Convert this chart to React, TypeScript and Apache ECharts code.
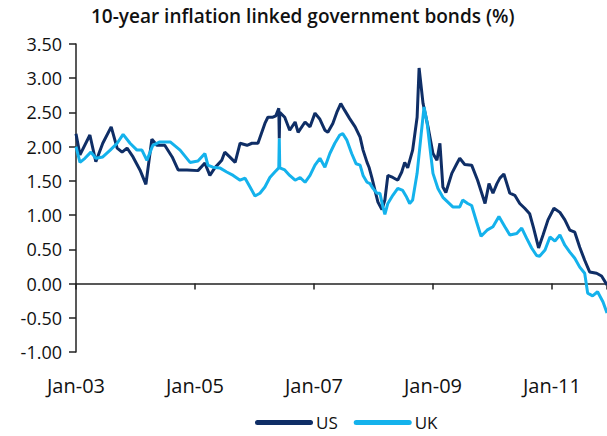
import React, { useEffect, useRef } from "react";
import * as echarts from "echarts";

const titleText = "10-year inflation linked government bonds (%)";
const xTickLabels = ["Jan-03", "Jan-05", "Jan-07", "Jan-09", "Jan-11"];
const seriesNames = ["US", "UK"];

// months since Jan-2003
const usMonths = [
  0.0, 0.8, 2.8, 4.0, 5.4, 7.1, 8.3, 9.3, 10.3, 11.5, 12.9, 14.1, 15.3, 16.3, 17.9, 19.4, 20.6, 22.4,
  24.6, 26.0, 27.0, 28.0, 29.4, 30.0, 31.0, 32.1, 33.1, 34.5, 35.5, 36.7, 38.1, 38.7, 39.7, 40.3,
  40.9, 41.0, 41.1, 42.1, 43.1, 44.2, 44.8, 46.2, 47.2, 48.2, 49.2, 50.2, 50.8, 51.8, 52.6, 53.4,
  54.2, 55.2, 56.3, 57.3, 57.9, 58.7, 59.1, 59.7, 60.3, 60.9, 61.7, 62.3, 62.9, 63.9, 64.9, 65.7,
  66.3, 66.9, 67.9, 68.8, 69.2, 70.0, 71.0, 72.0, 72.8, 73.4, 74.0, 74.6, 75.8, 76.8, 77.4, 78.4,
  79.8, 81.0, 82.5, 83.3, 84.1, 84.9, 85.5, 86.3, 87.5, 88.5, 89.5, 90.5, 91.5, 92.3, 93.3, 94.2,
  95.2, 96.4, 97.6, 98.6, 99.6, 100.6, 101.6, 102.6, 103.6, 105.0, 106.0, 107.1,
];
const usValues = [
  2.19, 1.88, 2.17, 1.78, 2.05, 2.29, 1.98, 1.92, 1.98, 1.85, 1.66, 1.45, 2.11, 2.02, 2.02, 1.85, 1.66, 1.66,
  1.65, 1.76, 1.58, 1.69, 1.8, 1.92, 1.85, 1.77, 2.05, 2.02, 2.05, 2.05, 2.34, 2.43, 2.43, 2.45,
  2.56, 2.12, 2.5, 2.43, 2.24, 2.36, 2.21, 2.36, 2.29, 2.49, 2.4, 2.24, 2.21, 2.34, 2.5, 2.63,
  2.53, 2.41, 2.29, 2.14, 1.95, 1.77, 1.7, 1.54, 1.36, 1.19, 1.08, 1.22, 1.58, 1.55, 1.51, 1.63,
  1.77, 1.69, 1.95, 2.43, 3.15, 2.63, 2.29, 1.9, 1.8, 2.05, 1.41, 1.33, 1.61, 1.75, 1.83, 1.74,
  1.73, 1.51, 1.17, 1.46, 1.32, 1.46, 1.54, 1.6, 1.32, 1.29, 1.17, 1.1, 1.02, 0.81, 0.52, 0.71,
  0.93, 1.1, 1.04, 0.93, 0.78, 0.75, 0.53, 0.34, 0.17, 0.15, 0.11, -0.02,
];

const ukMonths = [
  0.0, 0.8, 1.8, 3.0, 4.0, 5.4, 6.9, 8.3, 9.5, 10.9, 12.3, 13.3, 14.3, 15.5, 16.9, 19.0, 21.0, 23.0,
  24.6, 26.0, 26.6, 27.6, 29.0, 30.4, 31.7, 33.1, 34.1, 35.1, 36.1, 37.1, 38.1, 39.1, 40.1, 40.9,
  41.0, 41.1, 42.1, 43.1, 44.2, 45.2, 46.2, 47.2, 48.2, 49.2, 50.2, 51.2, 52.2, 53.2, 53.8, 54.6,
  55.6, 56.5, 57.3, 57.9, 58.7, 59.3, 59.9, 60.7, 61.3, 61.9, 62.3, 62.9, 63.9, 64.9, 65.9, 66.7,
  67.3, 67.9, 68.8, 69.6, 70.2, 70.8, 71.4, 72.0, 73.0, 74.0, 75.0, 76.0, 77.4, 78.0, 79.0, 79.8,
  80.8, 81.7, 82.9, 84.1, 85.3, 86.5, 87.5, 88.9, 89.9, 90.9, 91.9, 92.9, 93.5, 94.6, 95.6, 96.6,
  97.6, 98.6, 99.6, 100.6, 101.6, 102.6, 103.2, 104.2, 105.2, 106.3, 107.1,
];
const ukValues = [
  2.0, 1.77, 1.83, 1.92, 1.83, 1.85, 1.95, 2.05, 2.18, 2.05, 1.95, 1.95, 1.8, 2.02, 2.07, 2.07, 1.95, 1.77,
  1.79, 1.9, 1.73, 1.7, 1.69, 1.63, 1.58, 1.51, 1.54, 1.41, 1.28, 1.32, 1.41, 1.55, 1.63, 1.69,
  2.12, 1.69, 1.66, 1.58, 1.51, 1.55, 1.48, 1.58, 1.73, 1.83, 1.7, 1.9, 2.05, 2.17, 2.19, 2.1,
  1.9, 1.75, 1.73, 1.58, 1.48, 1.46, 1.39, 1.32, 1.32, 1.12, 1.01, 1.17, 1.29, 1.39, 1.36, 1.26,
  1.17, 1.22, 1.61, 2.17, 2.58, 2.36, 1.98, 1.61, 1.39, 1.26, 1.19, 1.12, 1.12, 1.22, 1.17, 1.14,
  0.9, 0.69, 0.78, 0.83, 0.98, 0.83, 0.71, 0.73, 0.81, 0.66, 0.52, 0.41, 0.4, 0.49, 0.68, 0.62,
  0.71, 0.56, 0.46, 0.37, 0.24, 0.15, -0.14, -0.18, -0.12, -0.27, -0.43,
];

const US_COLOR = "#0f2e66";
const UK_COLOR = "#14b2ec";
const AXIS_COLOR = "#222222";
const FONT = "Open Sans";
const LEGEND_ICON = "path://M2.5,0 L55.5,0 A2.5,2.5 0 0 1 55.5,5 L2.5,5 A2.5,2.5 0 0 1 2.5,0 Z";

const xLabel = (v: number) => {
  const i = v / 24;
  return Number.isInteger(i) && xTickLabels[i] ? xTickLabels[i] : "";
};

export default function App() {
  const ref = useRef<HTMLDivElement>(null);
  useEffect(() => {
    if (!ref.current) return;
    const chart = echarts.init(ref.current, undefined, { renderer: "svg" });
    chart.setOption({
      animation: false,
      backgroundColor: "#ffffff",
      title: {
        text: titleText,
        left: 91,
        top: 6,
        padding: 0,
        textStyle: { fontFamily: FONT, fontSize: 19, fontWeight: 600, color: "#111" },
      },
      legend: {
        data: seriesNames,
        left: 255,
        top: 414,
        padding: 0,
        itemWidth: 58,
        itemHeight: 5,
        itemGap: 16,
        icon: LEGEND_ICON,
        textStyle: { fontFamily: FONT, fontSize: 17, lineHeight: 17, color: "#111", padding: [0, 0, 0, -2] },
      },
      grid: { left: 76, right: 0, top: 44, bottom: 84, containLabel: false },
      xAxis: [
        {
          type: "value",
          min: 0,
          max: 107.1,
          interval: 24,
          position: "bottom",
          axisLine: { show: false, onZero: false },
          axisTick: { show: false },
          splitLine: { show: false },
          axisLabel: {
            formatter: xLabel,
            margin: 23,
            showMaxLabel: false,
            fontFamily: FONT,
            fontSize: 20,
            color: "#111",
          },
        },
        {
          type: "value",
          min: 0,
          max: 107.1,
          interval: 24,
          position: "top",
          axisLine: { show: true, onZero: true, lineStyle: { color: AXIS_COLOR, width: 1.5 } },
          axisTick: { show: true, inside: true, length: 6, lineStyle: { color: AXIS_COLOR, width: 1.5 } },
          splitLine: { show: false },
          axisLabel: { show: false },
        },
      ],
      yAxis: {
        type: "value",
        min: -1,
        max: 3.5,
        interval: 0.5,
        axisLine: { show: true, lineStyle: { color: AXIS_COLOR, width: 1.5 } },
        axisTick: { show: true, length: 7, lineStyle: { color: AXIS_COLOR, width: 1.5 } },
        splitLine: { show: false },
        axisLabel: {
          formatter: (v: number) => v.toFixed(2),
          margin: 14,
          fontFamily: FONT,
          fontSize: 18,
          color: "#111",
        },
      },
      series: [
        {
          name: seriesNames[0],
          type: "line",
          xAxisIndex: 0,
          data: usMonths.map((m, i) => [m, usValues[i]]),
          showSymbol: false,
          symbol: "none",
          lineStyle: { color: US_COLOR, width: 3 },
          itemStyle: { color: US_COLOR },
        },
        {
          name: seriesNames[1],
          type: "line",
          xAxisIndex: 0,
          data: ukMonths.map((m, i) => [m, ukValues[i]]),
          showSymbol: false,
          symbol: "none",
          lineStyle: { color: UK_COLOR, width: 3 },
          itemStyle: { color: UK_COLOR },
        },
      ],
    });
    return () => chart.dispose();
  }, []);
  return <div ref={ref} style={{ width: 607, height: 436, position: "absolute", left: 0, top: 0 }} />;
}
